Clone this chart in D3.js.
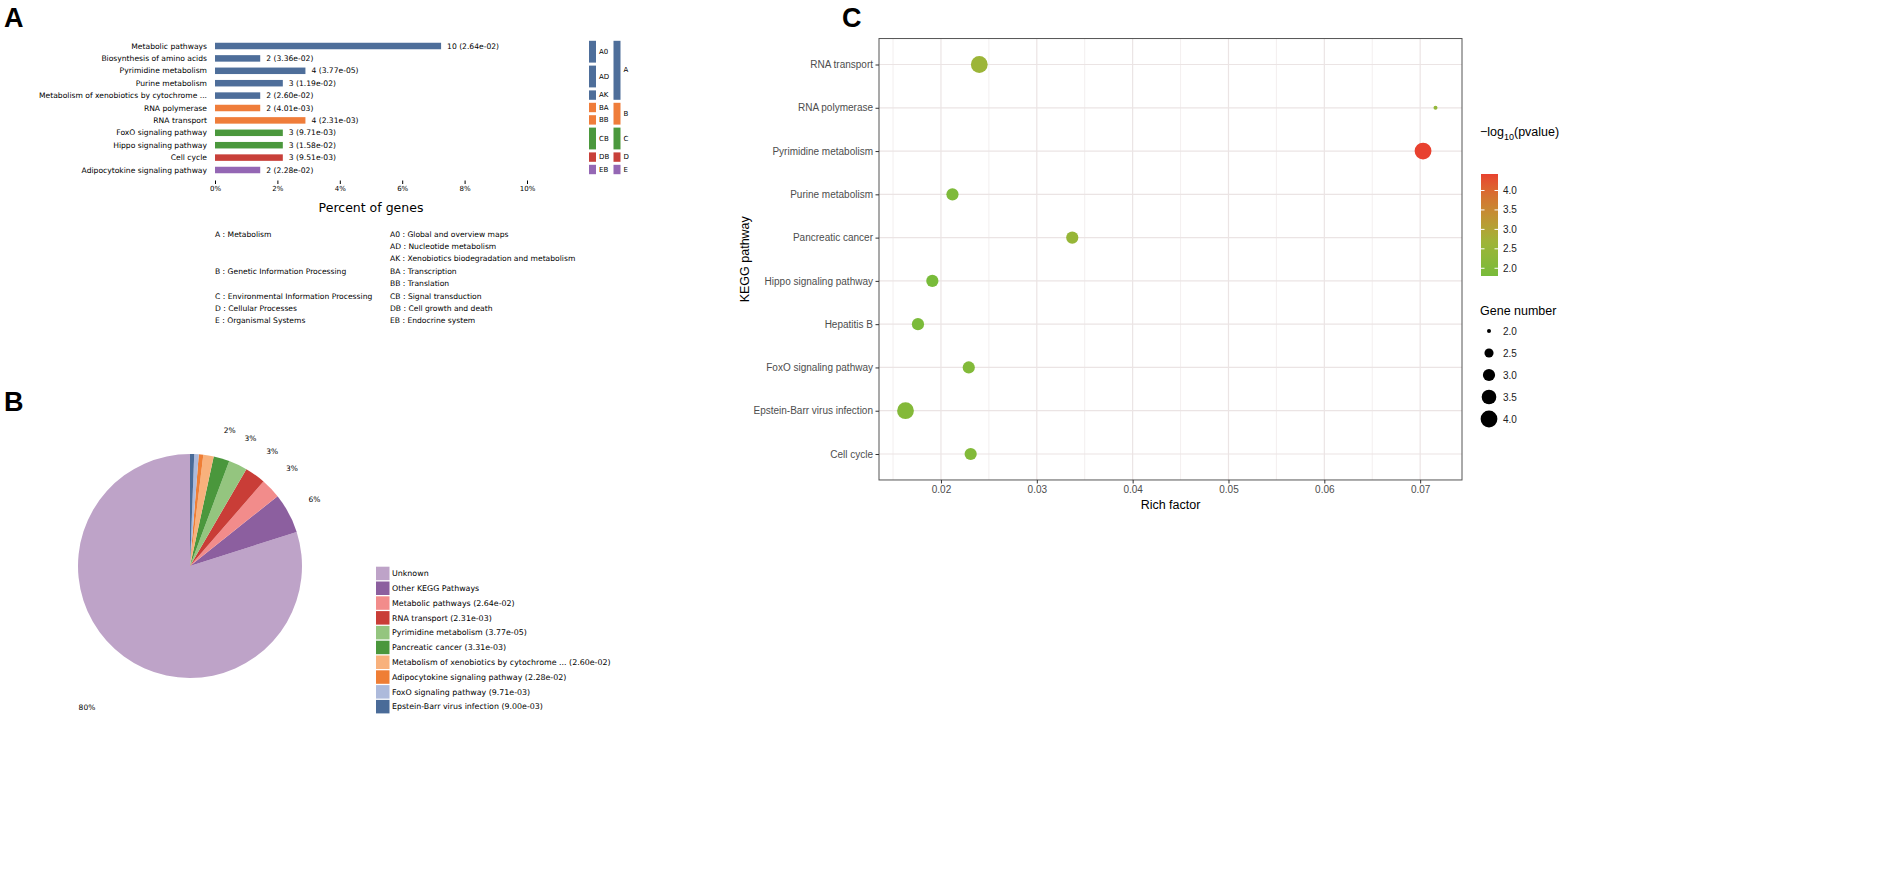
<!DOCTYPE html>
<html>
<head>
<meta charset="utf-8">
<script src="https://cdn.jsdelivr.net/npm/d3@7"></script>
<style>
  body { margin: 0; background: #fff; }
  text { font-family: "DejaVu Sans", sans-serif; }
  .gg text { font-family: "Liberation Sans", Arial, sans-serif; }
</style>
</head>
<body>
<svg id="fig" width="1902" height="873"></svg>
<script>
// ---------- Daten Panel A (Balken)
var barNames = ["Metabolic pathways", "Biosynthesis of amino acids", "Pyrimidine metabolism", "Purine metabolism",
  "Metabolism of xenobiotics by cytochrome ...", "RNA polymerase", "RNA transport", "FoxO signaling pathway",
  "Hippo signaling pathway", "Cell cycle", "Adipocytokine signaling pathway"];
var barGenes = [10, 2, 4, 3, 2, 2, 4, 3, 3, 3, 2];
var barPvals = ["2.64e-02", "3.36e-02", "3.77e-05", "1.19e-02", "2.60e-02", "4.01e-03", "2.31e-03", "9.71e-03", "1.58e-02", "9.51e-03", "2.28e-02"];
var barLevel2 = ["A0", "A0", "AD", "AD", "AK", "BA", "BB", "CB", "CB", "DB", "EB"];
var barLevel1 = ["A", "A", "A", "A", "A", "B", "B", "C", "C", "D", "E"];
var totalGenes = 138;
var pctTicks = [0, 2, 4, 6, 8, 10];
var level1Names = ["A : Metabolism", "B : Genetic Information Processing", "C : Environmental Information Processing",
  "D : Cellular Processes", "E : Organismal Systems"];
var level2Names = ["A0 : Global and overview maps", "AD : Nucleotide metabolism", "AK : Xenobiotics biodegradation and metabolism",
  "BA : Transcription", "BB : Translation", "CB : Signal transduction", "DB : Cell growth and death", "EB : Endocrine system"];

// ---------- Daten Panel B (Kuchen)
var pieNames = ["Unknown", "Other KEGG Pathways", "Metabolic pathways (2.64e-02)", "RNA transport (2.31e-03)",
  "Pyrimidine metabolism (3.77e-05)", "Pancreatic cancer (3.31e-03)", "Metabolism of xenobiotics by cytochrome ... (2.60e-02)",
  "Adipocytokine signaling pathway (2.28e-02)", "FoxO signaling pathway (9.71e-03)", "Epstein-Barr virus infection (9.00e-03)"];
var pieValues = [80.0, 5.8, 2.9, 3.0, 2.7, 2.3, 1.5, 0.65, 0.65, 0.6];

// ---------- Daten Panel C (Punkte)
var pathways = ["RNA transport", "RNA polymerase", "Pyrimidine metabolism", "Purine metabolism", "Pancreatic cancer",
  "Hippo signaling pathway", "Hepatitis B", "FoxO signaling pathway", "Epstein-Barr virus infection", "Cell cycle"];
var richFactor = [0.0240, 0.0716, 0.0703, 0.0212, 0.0337, 0.0191, 0.0176, 0.0229, 0.0163, 0.0231];
var geneNumber = [4, 2, 4, 3, 3, 3, 3, 3, 4, 3];
var pValues = [2.31e-3, 4.01e-3, 3.77e-5, 1.19e-2, 3.31e-3, 1.58e-2, 1.40e-2, 9.71e-3, 9.00e-3, 9.51e-3];
var richTicks = [0.02, 0.03, 0.04, 0.05, 0.06, 0.07];
var legendBreaks = [2.0, 2.5, 3.0, 3.5, 4.0];

var svg = d3.select("#fig");

// Panel-Buchstaben
[["A", 4, 27], ["B", 4, 411], ["C", 842, 27]].forEach(function (p) {
  svg.append("text").attr("x", p[1]).attr("y", p[2]).text(p[0])
    .style("font-family", "Liberation Sans, Arial, sans-serif")
    .style("font-weight", "bold").style("font-size", "27px");
});

// =============== Panel A ===============
var l1Color = d3.scaleOrdinal().domain(["A", "B", "C", "D", "E"])
  .range(["#4e6e9a", "#ef7d3a", "#4b983d", "#c8403a", "#9467b4"]);

var xA = d3.scaleLinear().domain([0, 10]).range([215, 527]);
var yA = d3.scaleBand().domain(d3.range(barNames.length)).range([39.8, 39.8 + 12.4 * barNames.length]);
var barH = 6.5;

var gA = svg.append("g");
gA.selectAll("rect.bar").data(barNames).enter().append("rect")
  .attr("class", "bar")
  .attr("x", xA(0))
  .attr("y", (d, i) => yA(i) + yA.bandwidth() / 2 - barH / 2)
  .attr("width", (d, i) => xA(barGenes[i] / totalGenes * 100) - xA(0))
  .attr("height", barH)
  .style("fill", (d, i) => l1Color(barLevel1[i]));

gA.selectAll("text.name").data(barNames).enter().append("text")
  .attr("x", 207).attr("y", (d, i) => yA(i) + yA.bandwidth() / 2)
  .attr("text-anchor", "end").attr("dominant-baseline", "central")
  .style("font-size", "7.6px").text(d => d);

gA.selectAll("text.val").data(barNames).enter().append("text")
  .attr("x", (d, i) => xA(barGenes[i] / totalGenes * 100) + 6)
  .attr("y", (d, i) => yA(i) + yA.bandwidth() / 2)
  .attr("dominant-baseline", "central")
  .style("font-size", "7.6px").text((d, i) => barGenes[i] + " (" + barPvals[i] + ")");

var axA = gA.append("g").attr("transform", "translate(0,180.5)")
  .call(d3.axisBottom(xA).tickValues(pctTicks).tickFormat(d => d + "%").tickSize(3.5).tickPadding(2));
axA.select(".domain").remove();
axA.selectAll("text").style("font-family", "DejaVu Sans").style("font-size", "7px").attr("fill", "#000");
axA.selectAll("line").attr("stroke", "#000");

gA.append("text").attr("x", xA(5)).attr("y", 207).attr("text-anchor", "middle")
  .attr("dominant-baseline", "central").style("font-size", "12.5px").text("Percent of genes");

// Gruppenbloecke rechts
function groups(codes) {
  var out = [];
  codes.forEach(function (c, i) {
    if (out.length && out[out.length - 1].code === c) out[out.length - 1].last = i;
    else out.push({ code: c, first: i, last: i, l1: barLevel1[i] });
  });
  return out;
}
[[barLevel2, 589], [barLevel1, 613.5]].forEach(function (col) {
  var gr = groups(col[0]);
  var g = gA.append("g");
  g.selectAll("rect").data(gr).enter().append("rect")
    .attr("x", col[1]).attr("width", 7)
    .attr("y", d => yA(d.first) + 1)
    .attr("height", d => yA(d.last) + yA.step() - 2 - (yA(d.first) + 1))
    .style("fill", d => l1Color(d.l1));
  g.selectAll("text").data(gr).enter().append("text")
    .attr("x", col[1] + 10)
    .attr("y", d => (yA(d.first) + yA(d.last) + yA.step()) / 2 - 0.5)
    .attr("dominant-baseline", "central").style("font-size", "7px").text(d => d.code);
});

// Legende unten
var l2Codes = level2Names.map(s => s.split(" : ")[0]);
gA.selectAll("text.l2").data(level2Names).enter().append("text")
  .attr("x", 390).attr("y", (d, i) => 234 + 12.4 * i)
  .attr("dominant-baseline", "central").style("font-size", "7.6px").text(d => d);
gA.selectAll("text.l1").data(level1Names).enter().append("text")
  .attr("x", 215)
  .attr("y", function (d) {
    var k = l2Codes.findIndex(c => c[0] === d[0]);
    return 234 + 12.4 * k;
  })
  .attr("dominant-baseline", "central").style("font-size", "7.6px").text(d => d);

// =============== Panel B ===============
var pieColor = d3.scaleOrdinal().domain(pieNames)
  .range(["#bea3c8", "#8c5f9f", "#f28c8b", "#c93d37", "#94c57f", "#4a973c", "#f8b17c", "#ef7e35", "#adbadb", "#4a6b98"]);
var R = 112;
var gB = svg.append("g").attr("transform", "translate(190,566)");
var pie = d3.pie().sort(null).startAngle(0).endAngle(-2 * Math.PI).value(d => d);
var arcs = pie(pieValues);
var arc = d3.arc().innerRadius(0).outerRadius(R);
gB.selectAll("path").data(arcs).enter().append("path")
  .attr("d", arc).style("fill", (d, i) => pieColor(pieNames[i]));
var pieSum = d3.sum(pieValues);
var labelArcSmall = d3.arc().innerRadius(R * 1.26).outerRadius(R * 1.26);
var labelArcBig = d3.arc().innerRadius(R * 1.56).outerRadius(R * 1.56);
gB.selectAll("text").data(arcs.filter(d => d.value / pieSum * 100 >= 2)).enter().append("text")
  .attr("transform", d => "translate(" + (d.value / pieSum > 0.5 ? labelArcBig : labelArcSmall).centroid(d) + ")")
  .attr("text-anchor", "middle").attr("dominant-baseline", "central")
  .style("font-size", "7.5px").text(d => Math.round(d.value / pieSum * 100) + "%");

var legB = svg.append("g").selectAll("g").data(pieNames).enter().append("g")
  .attr("transform", (d, i) => "translate(376," + (566.7 + 14.8 * i) + ")");
legB.append("rect").attr("width", 13.5).attr("height", 13.5).style("fill", d => pieColor(d));
legB.append("text").attr("x", 16).attr("y", 7).attr("dominant-baseline", "central")
  .style("font-size", "7.9px").text(d => d);

// =============== Panel C ===============
var gC = svg.append("g").attr("class", "gg");
var plotLeft = 879, plotRight = 1462;
var ext = d3.extent(richFactor), pad = (ext[1] - ext[0]) * 0.05;
var xC = d3.scaleLinear().domain([ext[0] - pad, ext[1] + pad]).range([plotLeft, plotRight]);
var yC = d3.scalePoint().domain(pathways).range([64.5, 454]);
var plotTop = yC.range()[0] - 0.6 * yC.step(), plotBottom = yC.range()[1] + 0.6 * yC.step();

var logP = pValues.map(p => -Math.log10(p));
var pExt = d3.extent(logP);
var colorC = d3.scaleLinear().domain([pExt[0], 2.65, pExt[1]])
  .range(["#78bb3a", "#9db538", "#e8412f"]).interpolate(d3.interpolateLab);
var sizeC = d3.scaleRadial().domain([2, 4]).range([2, 8.4]);

// Gitter
var minor = [];
for (var k = 0; k < richTicks.length + 1; k++) minor.push(richTicks[0] - 0.005 + 0.01 * k);
gC.selectAll("line.minor").data(minor.filter(v => xC(v) > plotLeft && xC(v) < plotRight)).enter().append("line")
  .attr("x1", d => xC(d)).attr("x2", d => xC(d)).attr("y1", plotTop).attr("y2", plotBottom)
  .attr("stroke", "#eee8e8").attr("stroke-width", 0.7);
gC.selectAll("line.vmaj").data(richTicks).enter().append("line")
  .attr("x1", d => xC(d)).attr("x2", d => xC(d)).attr("y1", plotTop).attr("y2", plotBottom)
  .attr("stroke", "#ebe4e4").attr("stroke-width", 1.2);
gC.selectAll("line.hmaj").data(pathways).enter().append("line")
  .attr("x1", plotLeft).attr("x2", plotRight).attr("y1", d => yC(d)).attr("y2", d => yC(d))
  .attr("stroke", "#ebe4e4").attr("stroke-width", 1.2);

gC.selectAll("circle.pt").data(pathways).enter().append("circle")
  .attr("cx", (d, i) => xC(richFactor[i])).attr("cy", d => yC(d))
  .attr("r", (d, i) => sizeC(geneNumber[i]))
  .style("fill", (d, i) => colorC(logP[i]));

gC.append("rect").attr("x", plotLeft).attr("y", plotTop).attr("width", plotRight - plotLeft).attr("height", plotBottom - plotTop)
  .attr("fill", "none").attr("stroke", "#555").attr("stroke-width", 1);

var axX = gC.append("g").attr("transform", "translate(0," + plotBottom + ")")
  .call(d3.axisBottom(xC).tickValues(richTicks).tickFormat(d3.format(".2f")).tickSize(3.5).tickPadding(2.5));
var axY = gC.append("g").attr("transform", "translate(" + plotLeft + ",0)")
  .call(d3.axisLeft(yC).tickSize(3.5).tickPadding(2.5));
[axX, axY].forEach(function (a) {
  a.select(".domain").remove();
  a.selectAll("line").attr("stroke", "#333");
  a.selectAll("text").attr("fill", "#4d4d4d").style("font-size", "10px")
    .style("font-family", "Liberation Sans, Arial, sans-serif");
});

gC.append("text").attr("x", (plotLeft + plotRight) / 2).attr("y", 505).attr("text-anchor", "middle")
  .attr("dominant-baseline", "central").style("font-size", "12.5px").text("Rich factor");
gC.append("text").attr("transform", "translate(745," + (plotTop + plotBottom) / 2 + ") rotate(-90)")
  .attr("text-anchor", "middle").attr("dominant-baseline", "central").style("font-size", "12.5px").text("KEGG pathway");

// Farblegende
var lt = gC.append("text").attr("x", 1480).attr("y", 136).style("font-size", "12.5px");
lt.append("tspan").text("\u2212log");
lt.append("tspan").attr("dy", 3.5).style("font-size", "9px").text("10");
lt.append("tspan").attr("dy", -3.5).text("(pvalue)");

var cbY = d3.scaleLinear().domain(pExt).range([276, 174]);
var grad = svg.append("defs").append("linearGradient").attr("id", "cb")
  .attr("x1", 0).attr("y1", 1).attr("x2", 0).attr("y2", 0);
d3.range(0, 1.001, 0.05).forEach(function (t) {
  grad.append("stop").attr("offset", t).attr("stop-color", colorC(pExt[0] + t * (pExt[1] - pExt[0])));
});
gC.append("rect").attr("x", 1481).attr("y", 174).attr("width", 17).attr("height", 102).style("fill", "url(#cb)");
var cbT = legendBreaks.filter(v => v >= pExt[0] && v <= pExt[1]);
gC.selectAll("line.cbt1").data(cbT).enter().append("line")
  .attr("x1", 1481).attr("x2", 1484.5).attr("y1", d => cbY(d)).attr("y2", d => cbY(d)).attr("stroke", "#fff");
gC.selectAll("line.cbt2").data(cbT).enter().append("line")
  .attr("x1", 1494.5).attr("x2", 1498).attr("y1", d => cbY(d)).attr("y2", d => cbY(d)).attr("stroke", "#fff");
gC.selectAll("text.cbl").data(cbT).enter().append("text")
  .attr("x", 1503).attr("y", d => cbY(d)).attr("dominant-baseline", "central")
  .style("font-size", "10px").attr("fill", "#222").text(d => d.toFixed(1));

// Groessenlegende
gC.append("text").attr("x", 1480).attr("y", 311).attr("dominant-baseline", "central")
  .style("font-size", "12.5px").text("Gene number");
var sl = gC.selectAll("g.sl").data(legendBreaks).enter().append("g")
  .attr("transform", (d, i) => "translate(1489," + (331 + 22 * i) + ")");
sl.append("circle").attr("r", d => sizeC(d)).style("fill", "#000");
sl.append("text").attr("x", 14).attr("dominant-baseline", "central")
  .style("font-size", "10px").attr("fill", "#222").text(d => d.toFixed(1));
</script>
</body>
</html>
